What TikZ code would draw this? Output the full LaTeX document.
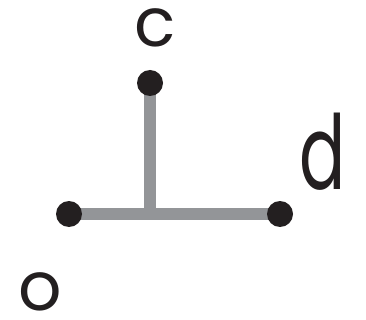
\documentclass[tikz,border=0pt]{standalone}
\usepackage{fontspec}
\newfontfamily\pop{Poppins}
\usetikzlibrary{backgrounds}
\definecolor{inkdark}{HTML}{231F20}
\definecolor{linegray}{HTML}{939598}
\tikzset{
  dotnode/.style={circle,fill=inkdark,draw=none,inner sep=0pt,minimum size=26pt},
  bar/.style={draw=linegray,line width=12pt},
  letter/.style={inner sep=0pt,text=inkdark,font=\pop\fontsize{68}{68}\selectfont}
}
\begin{document}
\begin{tikzpicture}[x=1pt,y=-1pt]
\useasboundingbox (0,0) rectangle (366,320);
\node[dotnode] (top) at (150,83) {};
\node[dotnode] (left) at (69,214) {};
\node[dotnode] (right) at (280,214) {};
\coordinate (join) at (150,214);
\begin{pgfonlayer}{background}
\draw[bar] (left.center) -- (right.center);
\draw[bar] (top.center) -- (join);
\end{pgfonlayer}
\node[letter] (lc) at (155,28) {c};
\node[letter,font=\pop\fontsize{76}{76}\selectfont,yscale=1.36,xscale=0.9] (ld) at (323,152) {d};
\node[letter] (lo) at (40,292) {o};
\end{tikzpicture}
\end{document}
